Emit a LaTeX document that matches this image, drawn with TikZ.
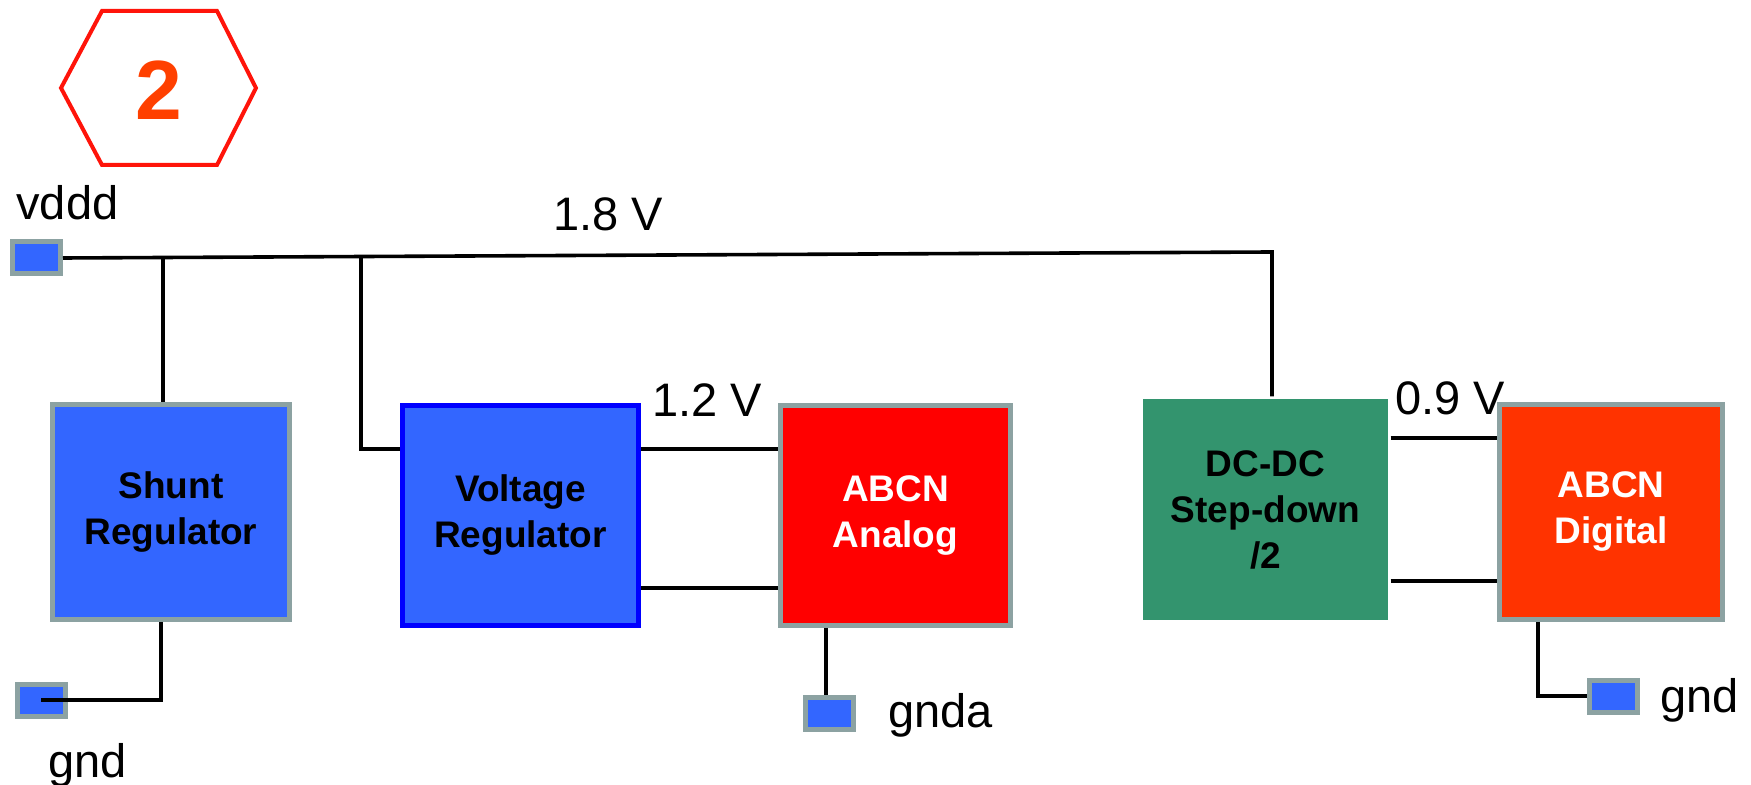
\documentclass[tikz,border=0pt]{standalone}
\usepackage{fontspec}
\setmainfont{Liberation Sans}
\usetikzlibrary{calc}
\definecolor{padblue}{RGB}{51,102,255}
\definecolor{bordergray}{RGB}{140,162,162}
\definecolor{vrblue}{RGB}{0,0,255}
\definecolor{anred}{RGB}{255,0,0}
\definecolor{digred}{RGB}{255,51,0}
\definecolor{dcgreen}{RGB}{51,148,110}
\definecolor{hexred}{RGB}{255,20,10}
\definecolor{numred}{RGB}{255,64,0}
\begin{document}
\begin{tikzpicture}[x=0.5pt,y=-0.5pt,
  blk/.style={rectangle, inner sep=0pt, align=center, font=\fontsize{18.5}{23}\selectfont\bfseries, line width=2.5pt},
  pad/.style={rectangle, inner sep=0pt, minimum width=24pt, minimum height=16pt, fill=padblue, draw=bordergray, line width=2.5pt},
  lbl/.style={inner sep=0pt, anchor=base west, font=\fontsize{23.5}{28}\selectfont},
  wire/.style={line width=1.8pt, black},
]
\useasboundingbox (0,0) rectangle (1751,785);

% hexagon badge
\draw[hexred, line width=2pt, line join=miter] (61,88) -- (102,11) -- (217,11) -- (256,88) -- (217,165) -- (102,165) -- cycle;
\node[inner sep=0pt, anchor=base, text=numred, font=\fontsize{42}{48}\selectfont\bfseries] (num) at (159,120) {2};

% blocks
\node[blk, fill=padblue, draw=bordergray, minimum width=118.5pt, minimum height=107.5pt] (sh) at (171,512) {Shunt\\Regulator};
\node[blk, fill=padblue, draw=vrblue, minimum width=118pt, minimum height=110pt] (vr) at (520.5,515.5) {Voltage\\Regulator};
\node[blk, fill=anred, draw=bordergray, text=white, minimum width=115pt, minimum height=110pt] (an) at (895.5,515.5) {ABCN\\Analog};
\node[blk, fill=dcgreen, draw=none, minimum width=122.5pt, minimum height=110.5pt] (dc) at (1265.5,509.5) {DC-DC\\Step-down\\/2};
\node[blk, fill=digred, draw=bordergray, text=white, minimum width=111.5pt, minimum height=107.5pt] (dig) at (1611,512) {ABCN\\Digital};

% pads
\node[pad] (vddd) at (36.5,258) {};
\node[pad] (gndL) at (41,700) {};
\node[pad] (gnda) at (829.5,713) {};
\node[pad] (gndR) at (1613,696) {};

% labels
\node[lbl] (lvddd) at (16,220) {vddd};
\node[lbl] (l18) at (553,231) {1.8 V};
\node[lbl] (l12) at (652,417) {1.2 V};
\node[lbl] (l09) at (1395,415) {0.9 V};
\node[lbl] (lgndL) at (48,777) {gnd};
\node[lbl] (lgnda) at (888,727) {gnda};
\node[lbl] (lgndR) at (1660,712) {gnd};

% wires
\coordinate (j3) at (1272,252);
\coordinate (j1) at ($(vddd.east)!(162,0)!(j3)$);
\coordinate (j2) at ($(vddd.east)!(360,0)!(j3)$);
\coordinate (yA) at (0,449);
\coordinate (yB) at (0,588);
\coordinate (yC) at (0,438);
\coordinate (yD) at (0,581);
\coordinate (xg) at (826,0);
\coordinate (xs) at (161,0);
\coordinate (xd) at (1538,0);

\draw[wire] (vddd.east) -- (j3) -- (j3 |- dc.north);
\draw[wire] (j1) -- (j1 |- sh.north);
\draw[wire] (j2) |- (vr.west |- yA);
\draw[wire] (vr.east |- yA) -- (an.west |- yA);
\draw[wire] (vr.east |- yB) -- (an.west |- yB);
\draw[wire] (dc.east |- yC) -- (dig.west |- yC);
\draw[wire] (dc.east |- yD) -- (dig.west |- yD);
\draw[wire] (xg |- an.south) -- (xg |- gnda.north);
\draw[wire] (xs |- sh.south) |- (gndL.center);
\draw[wire] (xd |- dig.south) |- (gndR.west);
\end{tikzpicture}
\end{document}
